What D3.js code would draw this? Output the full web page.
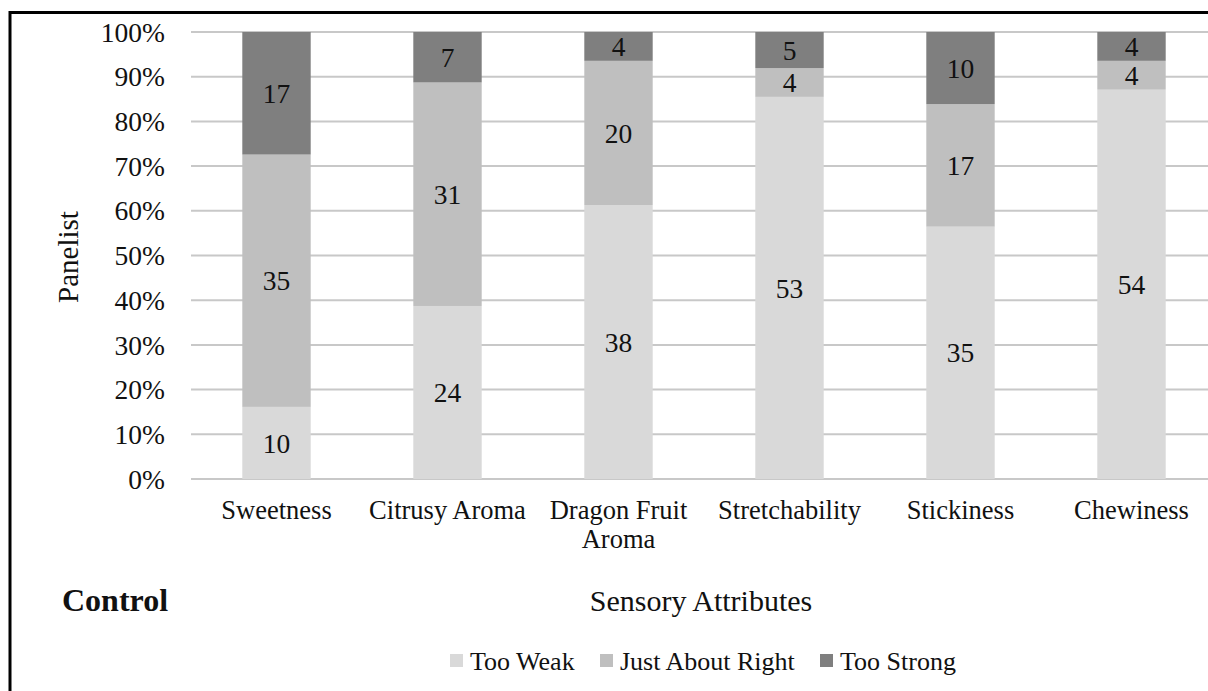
<!DOCTYPE html>
<html>
<head>
<meta charset="utf-8">
<script src="https://cdn.jsdelivr.net/npm/d3@7"></script>
</head>
<body style="margin:0">
<svg id="chart" width="1208" height="691"></svg>
<script>
// Sensory attribute ratings (number of panelists per response)
const categories = ["Sweetness", "Citrusy Aroma", "Dragon Fruit Aroma", "Stretchability", "Stickiness", "Chewiness"];
const seriesNames = ["Too Weak", "Just About Right", "Too Strong"];
const tooWeak = [10, 24, 38, 53, 35, 54];
const justAboutRight = [35, 31, 20, 4, 17, 4];
const tooStrong = [17, 7, 4, 5, 10, 4];
const yTicks = [0, 0.1, 0.2, 0.3, 0.4, 0.5, 0.6, 0.7, 0.8, 0.9, 1.0];
const seriesColors = ["#d9d9d9", "#bfbfbf", "#7f7f7f"];

const FONT = '"Liberation Serif"';
const INK = "#111";

const svg = d3.select("#chart");

// Frame lines around the figure
svg.append("line").attr("x1", 10).attr("x2", 1208).attr("y1", 12.5).attr("y2", 12.5)
  .attr("stroke", "#000").attr("stroke-width", 3);
svg.append("line").attr("x1", 10).attr("x2", 10).attr("y1", 11).attr("y2", 691)
  .attr("stroke", "#000").attr("stroke-width", 3);

const rows = categories.map((c, i) => ({
  category: c,
  "Too Weak": tooWeak[i],
  "Just About Right": justAboutRight[i],
  "Too Strong": tooStrong[i]
}));
// Normalise each column to 100%
const shares = rows.map(r => {
  const total = seriesNames.reduce((s, k) => s + r[k], 0);
  const o = { category: r.category };
  seriesNames.forEach(k => { o[k] = r[k] / total; });
  return o;
});
const stacked = d3.stack().keys(seriesNames)(shares);

const x = d3.scaleBand().domain(categories).range([191, 1217]).paddingInner(0.6).paddingOuter(0.3);
const y = d3.scaleLinear().domain([0, 1]).range([479, 32]);
const color = d3.scaleOrdinal().domain(seriesNames).range(seriesColors);

// Gridlines
svg.append("g")
  .selectAll("line").data(yTicks).join("line")
  .attr("x1", 191).attr("x2", 1217)
  .attr("y1", d => y(d)).attr("y2", d => y(d))
  .attr("stroke", "#c8c8c8").attr("stroke-width", 2);

// Y axis tick labels
yTicks.forEach(v => {
  svg.append("text")
    .attr("x", 165).attr("y", y(v))
    .attr("dy", "0.35em")
    .attr("text-anchor", "end")
    .style("font-family", FONT)
    .attr("font-size", 27.5)
    .attr("fill", INK)
    .text(d3.format(".0%")(v));
});

// Bars
const layers = svg.append("g").selectAll("g").data(stacked).join("g")
  .attr("fill", d => color(d.key));
layers.selectAll("rect").data(d => d).join("rect")
  .attr("x", d => x(d.data.category))
  .attr("width", x.bandwidth())
  .attr("y", d => y(d[1]))
  .attr("height", d => y(d[0]) - y(d[1]));

// Value labels
stacked.forEach((layer, li) => {
  const raw = [tooWeak, justAboutRight, tooStrong][li];
  layer.forEach((d, i) => {
    svg.append("text")
      .attr("x", x(d.data.category) + x.bandwidth() / 2)
      .attr("y", y((d[0] + d[1]) / 2))
      .attr("dy", "0.35em")
      .attr("text-anchor", "middle")
      .style("font-family", FONT)
      .attr("font-size", 27.5)
      .attr("fill", INK)
      .text(raw[i]);
  });
});

// Category labels; long names break before the last word
categories.forEach(c => {
  const cx = x(c) + x.bandwidth() / 2;
  const words = c.split(" ");
  const lines = c.length > 16 ? [words.slice(0, -1).join(" "), words[words.length - 1]] : [c];
  lines.forEach((ln, k) => {
    svg.append("text")
      .attr("x", cx)
      .attr("y", 519 + k * 29)
      .attr("text-anchor", "middle")
      .style("font-family", FONT)
      .attr("font-size", 26.5)
      .attr("fill", INK)
      .text(ln);
  });
});

// Axis titles
svg.append("text")
  .attr("transform", "translate(68,257) rotate(-90)")
  .attr("text-anchor", "middle")
  .attr("dy", "0.35em")
  .style("font-family", FONT)
  .attr("font-size", 29)
  .attr("fill", INK)
  .text("Panelist");

svg.append("text")
  .attr("x", 701).attr("y", 611)
  .attr("text-anchor", "middle")
  .style("font-family", FONT)
  .attr("font-size", 30)
  .attr("fill", INK)
  .text("Sensory Attributes");

svg.append("text")
  .attr("x", 62).attr("y", 611)
  .style("font-family", FONT)
  .attr("font-size", 32)
  .attr("font-weight", "bold")
  .attr("fill", INK)
  .text("Control");

// Legend
const legendX = [450, 600, 820];
seriesNames.forEach((s, i) => {
  svg.append("rect").attr("x", legendX[i]).attr("y", 654).attr("width", 13).attr("height", 13)
    .attr("fill", color(s));
  svg.append("text").attr("x", legendX[i] + 20).attr("y", 670)
    .style("font-family", FONT).attr("font-size", 26).attr("fill", INK)
    .text(s);
});
</script>
</body>
</html>
